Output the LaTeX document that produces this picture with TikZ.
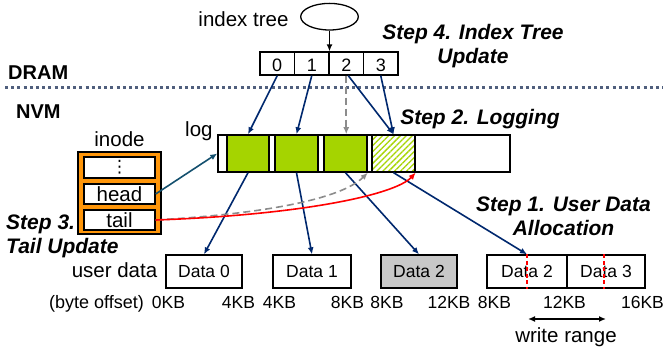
\documentclass[tikz,border=0pt]{standalone}
\usepackage{fontspec}
\setmainfont{Liberation Sans}
\newfontfamily\symfont{DejaVu Sans}
\usetikzlibrary{arrows.meta,patterns.meta,shapes.geometric}
\definecolor{navy}{RGB}{0,40,110}
\definecolor{headclr}{RGB}{20,80,110}
\definecolor{entryclr}{RGB}{165,212,0}
\definecolor{inodeclr}{RGB}{255,150,10}
\definecolor{sepclr}{RGB}{80,95,125}
\definecolor{oldclr}{RGB}{140,140,140}
\definecolor{blkgray}{RGB}{200,200,200}
\begin{document}
\begin{tikzpicture}[x=1pt,y=-1pt,
  every node/.style={inner sep=0pt},
  txt/.style={font=\fontsize{20.5}{24}\selectfont},
  small/.style={font=\fontsize{17.5}{21}\selectfont},
  steplbl/.style={font=\fontsize{21}{24}\selectfont\bfseries\itshape},
  memlbl/.style={font=\fontsize{20}{24}\selectfont\bfseries},
  cell/.style={draw, line width=1.3pt, minimum width=34.5pt, minimum height=23pt,
    text height=17pt, text depth=0pt, font=\fontsize{18}{21}\selectfont},
  entry/.style={draw, line width=1.5pt, minimum width=43pt, minimum height=37pt},
  slot/.style={draw, fill=white, line width=1.3pt, minimum width=71pt, minimum height=20pt, txt},
  datablk/.style={draw, line width=1.3pt, minimum height=33pt, small},
  ptr/.style={draw=navy, line width=1.6pt, -{Latex[length=7pt,width=6pt]}},
  oldptr/.style={draw=oldclr, line width=1.6pt, dash pattern=on 7pt off 4pt, -{Latex[length=7pt,width=6pt]}},
  newptr/.style={draw=red, line width=1.6pt, -{Latex[length=7pt,width=6pt]}},
  cut/.style={draw=red, line width=1.2pt, dash pattern=on 4pt off 2.5pt}
]
\useasboundingbox (0,0) rectangle (663,352);

% DRAM / NVM boundary
\coordinate (sepL) at (5,88);
\coordinate (sepR) at (663,88);
\draw[sepclr, line width=3pt, dash pattern=on 3pt off 3.2pt] (sepL) -- (sepR);
\node[memlbl, anchor=base west] (dram) at (8,80) {DRAM};
\node[memlbl, anchor=base west] (nvm) at (16,119) {NVM};

% index tree and its root array
\node[draw, ellipse, line width=1.3pt, minimum width=57.6pt, minimum height=26.6pt] (tree) at (329.5,16.7) {};
\node[txt, anchor=base] (treelbl) at (243.5,27) {index tree};
\node[cell] (idx0) at (277.25,63.5) {0};
\node[cell] (idx1) at (311.75,63.5) {1};
\node[cell] (idx2) at (346.25,63.5) {2};
\node[cell] (idx3) at (380.75,63.5) {3};
\draw[line width=1.5pt, -{Latex[length=7pt,width=6pt]}] (tree.south) -- (tree.south |- idx1.north);

% log
\node[draw, line width=1.5pt, minimum width=292pt, minimum height=37pt] (logbox) at (364,153.5) {};
\node[txt, anchor=base west] (loglbl) at (185,137) {log};
\node[entry, fill=entryclr, minimum width=42pt] (e1) at (248,153.5) {};
\node[entry, fill=entryclr] (e2) at (296.5,153.5) {};
\node[entry, fill=entryclr] (e3) at (345.5,153.5) {};
\node[entry, fill=white, pattern={Lines[angle=45,distance=4.2pt,line width=1.3pt]}, pattern color=entryclr] (e4) at (393.5,153.5) {};
\node[entry] at (e4) {};

% inode
\node[draw, fill=inodeclr, line width=1.5pt, minimum width=83pt, minimum height=82pt] (inode) at (119.5,193) {};
\node[txt, anchor=base] (inodelbl) at (119.5,147) {inode};
\node[slot, minimum height=21pt] (dots) at (119.5,167.5) {\fontsize{17}{20}\symfont ⋮};
\node[slot] (head) at (119.5,194) {head};
\node[slot] (tail) at (119.5,220) {tail};

% user data blocks
\node[txt, anchor=base] (udlbl) at (114.5,278) {user data};
\node[datablk, minimum width=76pt] (d0) at (204,271.5) {Data 0};
\node[datablk, minimum width=78pt] (d1) at (312,271.5) {Data 1};
\node[datablk, minimum width=76pt, fill=blkgray] (d2old) at (419,271.5) {Data 2};
\node[datablk, minimum width=80pt] (d2new) at (527,271.5) {Data 2};
\node[datablk, minimum width=78pt] (d3) at (606,271.5) {Data 3};
\draw[cut] (d2new.north) -- (d2new.south);
\draw[cut] ([xshift=-2pt]d3.north) -- ([xshift=-2pt]d3.south);

% byte offsets
\node[font=\fontsize{18}{21}\selectfont, anchor=base] (offlbl) at (96.5,308) {(byte offset)};
\foreach \x/\t [count=\i] in {168.5/0KB, 238.5/4KB, 279.5/4KB, 347.5/8KB, 387/8KB,
    449/12KB, 494.5/8KB, 564.5/12KB, 642.5/16KB}
  \node[small, anchor=base] (off\i) at (\x,308) {\t};

% write range
\coordinate (wl) at (528,319);
\coordinate (wr) at (606,319);
\draw[line width=1.6pt, {Latex[length=7pt,width=6pt]}-{Latex[length=7pt,width=6pt]}] (wl) -- (wr);
\node[txt, anchor=base] (wrlbl) at (566,342) {write range};

% index entries -> log entries
\draw[ptr] (idx0.south) -- (e1.north);
\draw[ptr] (idx1.south) -- (e2.north);
\draw[oldptr] (idx2.south) -- (idx2.south |- e3.north);
\draw[ptr] ([xshift=2pt]idx2.south) -- (e4.north);
\draw[ptr] (idx3.south) -- (e4.north);

% log entries -> user data
\draw[ptr] (e1.south) -- (d0.north);
\draw[ptr] (e2.south) -- (d1.north);
\draw[ptr] (e3.south) -- (d2old.north);
\draw[ptr] (e4.south) -- (d2new.north);

% inode pointers
\draw[draw=headclr, line width=1.6pt, -{Latex[length=7pt,width=6pt]}] (head.east) -- (logbox.west);
\draw[oldptr] (tail.east) .. controls (260,214) and (340,200) .. (e3.south east);
\draw[newptr] (tail.east) .. controls (300,215) and (395,195) .. (e4.south east);

% step labels (the base anchor sits on the last line)
\node[steplbl, align=center, anchor=base] (s4) at (473,64) {Step 4. Index Tree\\Update};
\node[steplbl, anchor=base] (s2) at (480,125) {Step 2. Logging};
\node[steplbl, align=center, anchor=base] (s1) at (563.5,236) {Step 1. User Data\\Allocation};
\node[steplbl, align=left, anchor=base west] (s3) at (6,254) {Step 3.\\Tail Update};
\end{tikzpicture}
\end{document}
